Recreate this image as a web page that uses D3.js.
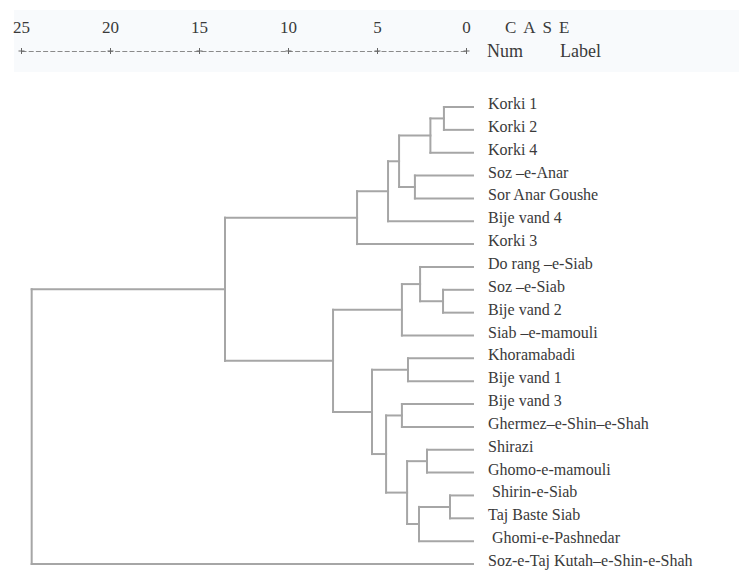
<!DOCTYPE html>
<html>
<head>
<meta charset="utf-8">
<script src="https://cdn.jsdelivr.net/npm/d3@7"></script>
<style>
  html, body { margin: 0; padding: 0; background: #fff; }
  svg { display: block; }
  svg text { font-family: "Liberation Serif", "Tinos", "Times New Roman", "DejaVu Serif", serif; fill: #3a3a3a; }
</style>
</head>
<body>
<div id="chart"></div>
<script>
// ---- data ----
const labels = [
  "Korki 1", "Korki 2", "Korki 4", "Soz \u2013e-Anar", "Sor Anar Goushe",
  "Bije vand 4", "Korki 3", "Do rang \u2013e-Siab", "Soz \u2013e-Siab", "Bije vand 2",
  "Siab \u2013e-mamouli", "Khoramabadi", "Bije vand 1", "Bije vand 3",
  "Ghermez\u2013e-Shin\u2013e-Shah", "Shirazi", "Ghomo-e-mamouli", " Shirin-e-Siab",
  "Taj Baste Siab", " Ghomi-e-Pashnedar", "Soz-e-Taj Kutah\u2013e-Shin-e-Shah"
];
// agglomeration schedule: indices < labels.length are cases, otherwise labels.length + step
const n = labels.length;
const clusterA      = [0, 17, 8, n+0, 15, 7, n+1, 3, 11, n+4, n+5, 13, n+3, n+12, n+11, n+8, n+13, n+10, n+16, n+18];
const clusterB      = [1, 18, 9, 2, 16, n+2, 19, 4, 12, n+6, 10, 14, n+7, 5, n+9, n+14, 6, n+15, n+17, 20];
const clusterHeight = [1.24, 0.9, 1.29, 2.0, 2.19, 2.58, 2.64, 2.87, 3.26, 3.31, 3.6, 3.6, 3.76, 4.38, 4.49, 5.28, 6.12, 7.47, 13.54, 24.4];
const tickValues = [25, 20, 15, 10, 5, 0];

// ---- layout ----
const W = 739, H = 570;
const FONT = '"Liberation Serif", "Tinos", "Times New Roman", "DejaVu Serif", serif';
const svg = d3.select("#chart").append("svg").attr("width", W).attr("height", H);

// faint header band
svg.append("rect").attr("x", 14).attr("y", 10).attr("width", W - 14).attr("height", 62)
  .attr("fill", "#f8fafc");

const x = d3.scaleLinear().domain([25, 0]).range([21, 466]);
const y = d3.scalePoint().domain(d3.range(n)).range([107, 564]);
const leafEnd = x(0) + 7;

// axis
const axisG = svg.append("g").attr("transform", "translate(0,51)");
axisG.call(d3.axisTop(x).tickValues(tickValues).tickSizeInner(0).tickSizeOuter(0).tickPadding(18));
axisG.attr("font-family", FONT);
axisG.select(".domain").attr("stroke", "#8a8a8a").attr("stroke-width", 1).attr("stroke-dasharray", "5,2.2");
axisG.selectAll(".tick text")
  .style("font-family", FONT)
  .style("font-size", "17px").attr("fill", "#4a4a4a");
axisG.selectAll(".tick").append("line")
  .attr("y1", -3).attr("y2", 3).attr("stroke", "#666").attr("stroke-width", 1);
axisG.selectAll(".tick").append("line")
  .attr("x1", -3).attr("x2", 3).attr("stroke", "#666").attr("stroke-width", 1);

// header text
svg.append("text").attr("x", 505).attr("y", 33).style("font-family", FONT).style("font-size", "17px")
  .style("letter-spacing", "7px").attr("fill", "#4a4a4a").text("CASE");
svg.append("text").attr("x", 487).attr("y", 57).style("font-family", FONT).style("font-size", "18px").text("Num");
svg.append("text").attr("x", 560).attr("y", 57).style("font-family", FONT).style("font-size", "18px").text("Label");

// compute node positions
const nodeX = [], nodeY = [];
for (let i = 0; i < n; i++) { nodeX[i] = leafEnd; nodeY[i] = y(i); }
const segs = [];
clusterA.forEach((a, k) => {
  const b = clusterB[k];
  const id = n + k;
  const cx = x(clusterHeight[k]);
  nodeX[id] = cx;
  nodeY[id] = (nodeY[a] + nodeY[b]) / 2;
  segs.push([nodeX[a], nodeY[a], cx, nodeY[a]]);
  segs.push([nodeX[b], nodeY[b], cx, nodeY[b]]);
  segs.push([cx, nodeY[a], cx, nodeY[b]]);
});

svg.append("g").selectAll("line").data(segs).join("line")
  .attr("x1", d => d[0]).attr("y1", d => d[1]).attr("x2", d => d[2]).attr("y2", d => d[3])
  .attr("stroke", "#a6a6a6").attr("stroke-width", 2).attr("stroke-linecap", "square");

// labels
svg.append("g").selectAll("text").data(labels).join("text")
  .attr("x", leafEnd + 15).attr("y", (d, i) => y(i) + 2)
  .style("font-family", FONT)
  .style("white-space", "pre")
  .style("font-size", "16px")
  .text(d => d);
</script>
</body>
</html>
